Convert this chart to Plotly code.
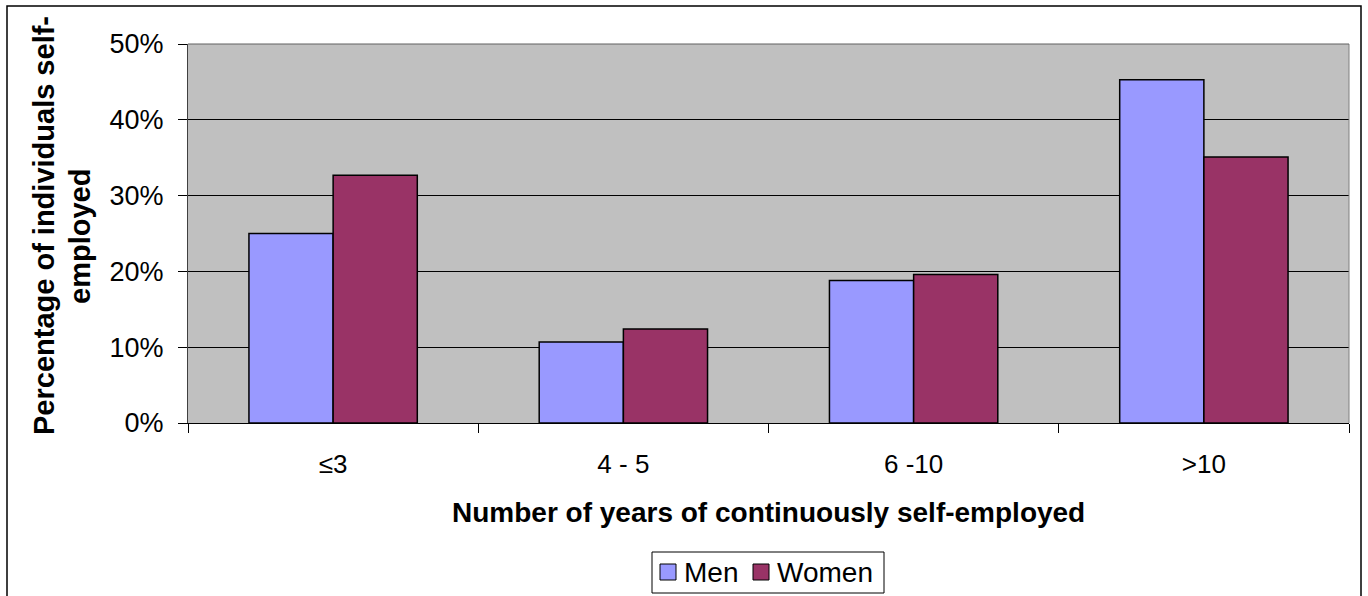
import plotly.graph_objects as go

categories = ["≤3", "4 - 5", "6 -10", ">10"]
men = [0.250, 0.107, 0.188, 0.453]
women = [0.327, 0.124, 0.196, 0.351]
y_ticks = [0.0, 0.1, 0.2, 0.3, 0.4, 0.5]
series_names = ["Men", "Women"]
series_colors = ["#9999FF", "#993366"]

FONT = "Liberation Sans, Arial, sans-serif"
W, H = 1368, 596
L, R, T, B = 188, 19, 44, 173
pw, ph = W - L - R, H - T - B


def px_x(x):
    return (x - L) / pw


def px_y(y):
    return (H - B - y) / ph


fig = go.Figure()
for name, values, color in zip(series_names, [men, women], series_colors):
    fig.add_trace(go.Bar(
        x=categories, y=values, name=name,
        marker=dict(color=color, line=dict(color="black", width=1.5)),
    ))

fig.update_layout(
    width=W, height=H,
    margin=dict(l=L, r=R, t=T, b=B, autoexpand=False),
    paper_bgcolor="white",
    plot_bgcolor="#C0C0C0",
    barmode="group",
    bargap=0.42,
    bargroupgap=0,
    font=dict(family=FONT, color="black", size=26),
    showlegend=False,
    xaxis=dict(
        type="category",
        showgrid=False,
        ticks="outside", ticklen=9, tickcolor="black",
        tickson="boundaries",
        ticklabelstandoff=18,
        tickfont=dict(size=26),
        showline=True, linecolor="black", linewidth=1,
        zeroline=False,
    ),
    yaxis=dict(
        range=[0, 0.5],
        tickvals=y_ticks,
        tickformat=".0%",
        showgrid=True, gridcolor="black", gridwidth=1,
        ticks="outside", ticklen=9, tickcolor="black",
        ticklabelstandoff=9,
        tickfont=dict(size=27),
        showline=True, linecolor="#404040", linewidth=1,
        zeroline=False,
    ),
)

# plot-area frame on the top and right sides
fig.add_shape(type="line", xref="paper", yref="paper",
              x0=1, x1=1, y0=0, y1=1, line=dict(color="#808080", width=1))
fig.add_shape(type="line", xref="paper", yref="paper",
              x0=0, x1=1, y0=1, y1=1, line=dict(color="#606060", width=1))

# outer chart border
fig.add_shape(type="rect", xref="paper", yref="paper",
              x0=px_x(7), x1=px_x(1361), y0=px_y(6), y1=px_y(605),
              line=dict(color="black", width=1.5), fillcolor="rgba(0,0,0,0)",
              layer="above")

# legend box with swatches and labels
fig.add_shape(type="rect", xref="paper", yref="paper",
              x0=px_x(652), x1=px_x(884), y0=px_y(593), y1=px_y(552),
              line=dict(color="black", width=1), fillcolor="white")
swatch_left = [660, 753]
label_left = [683, 776]
for name, color, sx, lx in zip(series_names, series_colors, swatch_left, label_left):
    fig.add_shape(type="rect", xref="paper", yref="paper",
                  x0=px_x(sx), x1=px_x(sx + 16), y0=px_y(580), y1=px_y(564),
                  line=dict(color="black", width=1), fillcolor=color)
    fig.add_annotation(
        text=name, xref="paper", yref="paper", x=px_x(lx), y=px_y(572.5),
        xanchor="left", yanchor="middle", showarrow=False,
        font=dict(size=28), borderpad=0,
    )

# axis titles
fig.add_annotation(
    text="<b>Number of years of continuously self-employed</b>",
    xref="paper", yref="paper", x=0.5, y=px_y(512),
    xanchor="center", yanchor="middle", showarrow=False,
    font=dict(size=28),
)
fig.add_annotation(
    text="<b>Percentage of individuals self-</b>",
    xref="paper", yref="paper", x=px_x(44), y=px_y(226),
    xanchor="center", yanchor="middle", textangle=-90, showarrow=False,
    font=dict(size=29),
)
fig.add_annotation(
    text="<b>employed</b>",
    xref="paper", yref="paper", x=px_x(80), y=px_y(237),
    xanchor="center", yanchor="middle", textangle=-90, showarrow=False,
    font=dict(size=29),
)

fig.write_html("out.html")
